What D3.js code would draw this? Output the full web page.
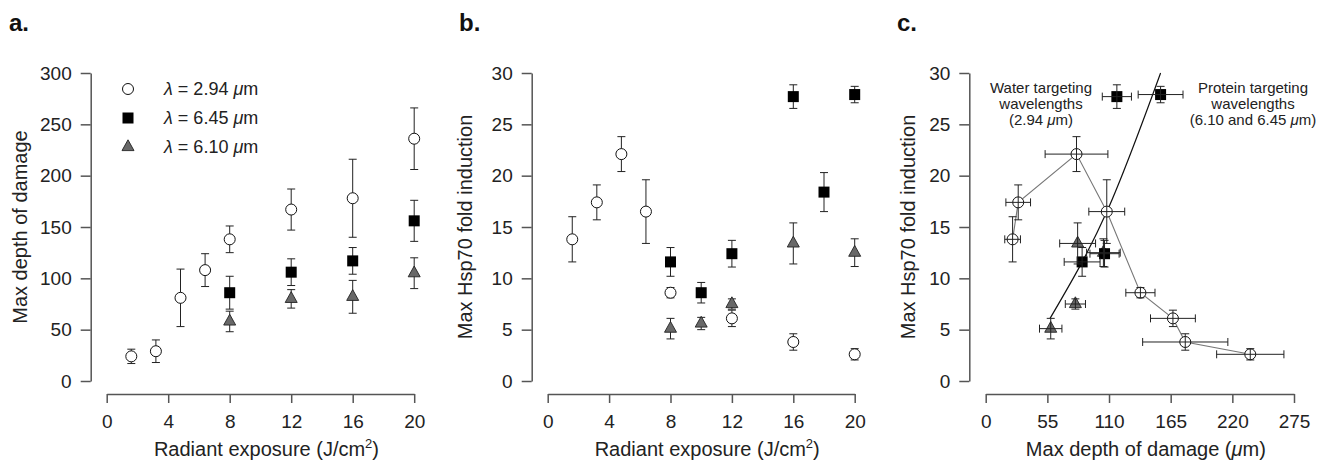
<!DOCTYPE html>
<html>
<head>
<meta charset="utf-8">
<script src="https://cdn.jsdelivr.net/npm/d3@7"></script>
<style>
  body { margin: 0; background: #fff; }
  svg { font-family: "Liberation Sans", Arial, sans-serif; }
  .axis path, .axis line { stroke: #555; stroke-width: 1.5; }
  .axis text { font-family: "Liberation Sans", Arial, sans-serif; font-size: 19px; fill: #222; }
  .err { stroke: #222; stroke-width: 1; fill: none; }
</style>
</head>
<body>
<script>
// ---- data ----
// lambda = 2.94 um (water), circles
var expWater = [1.6, 3.2, 4.8, 6.4, 8, 12, 16, 20];
var depthWater = [24, 29, 81, 108, 138, 167, 178, 236];
var depthWaterErr = [7, 11, 28, 16, 13, 20, 38, 30];
var hspWater = [13.8, 17.4, 22.1, 16.5, 8.6, 6.1, 3.8, 2.6];
var hspWaterErr = [2.2, 1.7, 1.7, 3.1, 0.5, 0.8, 0.8, 0.55];

// lambda = 6.45 um, squares
var expDepth645 = [8, 12, 16, 20];
var depth645 = [86, 106, 117, 156];
var depth645Err = [16, 13, 13, 20];
var expHsp645 = [8, 10, 12, 16, 18, 20];
var hsp645 = [11.6, 8.6, 12.4, 27.7, 18.4, 27.9];
var hsp645Err = [1.4, 1.0, 1.3, 1.15, 1.9, 0.8];

// lambda = 6.10 um, triangles
var expDepth610 = [8, 12, 16, 20];
var depth610 = [58, 80, 82, 105];
var depth610Err = [10, 9, 16, 15];
var expHsp610 = [8, 10, 12, 16, 20];
var hsp610 = [5.1, 5.6, 7.5, 13.4, 12.5];
var hsp610Err = [1.0, 0.6, 0.5, 2.0, 1.35];

// trend line through protein-targeting points (panel c)
var fitDepth = [57.4, 108.5, 156];
var fitHsp = [6.1, 16.6, 30];

// axis ticks
var expTicks = [0, 4, 8, 12, 16, 20];
var depthTicks = [0, 50, 100, 150, 200, 250, 300];
var hspTicks = [0, 5, 10, 15, 20, 25, 30];
var depthXTicks = [0, 55, 110, 165, 220, 275];

var width = 1327, height = 465;
var yTop = 73, yBottom = 381, xAxisY = 394;

var svg = d3.select("body").append("svg")
    .attr("width", width)
    .attr("height", height);

// helpers
function zipPts(xs, ys, xe, ye) {
  return xs.map(function(d, i) {
    return { x: d, y: ys[i], xe: xe ? xe[i] : 0, ye: ye ? ye[i] : 0 };
  });
}
// pair depth and hsp values that share the same exposure
function pairByExposure(expA, a, aErr, expB, b, bErr) {
  var out = [];
  expA.forEach(function(e, i) {
    var j = expB.indexOf(e);
    if (j >= 0) out.push({ x: a[i], xe: aErr[i], y: b[j], ye: bErr[j] });
  });
  return out;
}

var triPath = "M0,-7.2L6,3.6L-6,3.6Z";

function drawMarkers(g, pts, x, y, kind, fill) {
  var sel = g.append("g").selectAll("g").data(pts).enter().append("g")
      .attr("transform", function(d) { return "translate(" + x(d.x) + "," + y(d.y) + ")"; });
  if (kind === "circle") {
    sel.append("circle").attr("r", 5.5).attr("fill", fill || "#fff")
       .attr("stroke", "#111").attr("stroke-width", 1);
  } else if (kind === "square") {
    sel.append("rect").attr("x", -5.5).attr("y", -5.5).attr("width", 11).attr("height", 11)
       .attr("fill", "#000");
  } else {
    sel.append("path").attr("d", triPath).attr("fill", "#686868")
       .attr("stroke", "#222").attr("stroke-width", 0.9);
  }
}

function drawErr(g, pts, x, y, horiz) {
  var cap = 4;
  var eg = g.append("g").attr("class", "err");
  pts.forEach(function(d) {
    var cx = x(d.x), cy = y(d.y);
    if (d.ye) {
      var y1 = y(d.y + d.ye), y2 = y(d.y - d.ye);
      eg.append("line").attr("x1", cx).attr("x2", cx).attr("y1", y1).attr("y2", y2);
      eg.append("line").attr("x1", cx - cap).attr("x2", cx + cap).attr("y1", y1).attr("y2", y1);
      eg.append("line").attr("x1", cx - cap).attr("x2", cx + cap).attr("y1", y2).attr("y2", y2);
    }
    if (horiz && d.xe) {
      var x1 = x(d.x - d.xe), x2 = x(d.x + d.xe);
      eg.append("line").attr("x1", x1).attr("x2", x2).attr("y1", cy).attr("y2", cy);
      eg.append("line").attr("x1", x1).attr("x2", x1).attr("y1", cy - cap).attr("y2", cy + cap);
      eg.append("line").attr("x1", x2).attr("x2", x2).attr("y1", cy - cap).attr("y2", cy + cap);
    }
  });
}

// builds axes, titles and panel letter; returns scales
function makePanel(o) {
  var g = svg.append("g");
  var x = d3.scaleLinear().domain(o.xDomain).range(o.xRange);
  var y = d3.scaleLinear().domain(o.yDomain).range([yBottom, yTop]);

  g.append("g").attr("class", "axis")
    .attr("transform", "translate(" + o.axisX + ",0)")
    .call(d3.axisLeft(y).tickValues(o.yTicks).tickSize(10).tickSizeOuter(0).tickPadding(9));

  g.append("g").attr("class", "axis")
    .attr("transform", "translate(0," + xAxisY + ")")
    .call(d3.axisBottom(x).tickValues(o.xTicks).tickSize(9).tickSizeOuter(0).tickPadding(12));

  g.append("text")
    .attr("transform", "translate(" + o.yTitleX + "," + (yTop + yBottom) / 2 + ") rotate(-90)")
    .attr("text-anchor", "middle")
    .attr("dominant-baseline", "central")
    .attr("font-size", 20).attr("fill", "#222")
    .text(o.yTitle);

  var xt = g.append("text")
    .attr("x", (o.xRange[0] + o.xRange[1]) / 2 + 6)
    .attr("y", 456)
    .attr("text-anchor", "middle")
    .attr("font-size", 20).attr("fill", "#222");
  o.xTitle(xt);

  g.append("text")
    .attr("x", o.labelX).attr("y", 31)
    .attr("font-size", 24).attr("font-weight", "bold").attr("fill", "#111")
    .text(o.label);

  return { g: g, x: x, y: y };
}

function exposureTitle(t) {
  t.append("tspan").text("Radiant exposure (J/cm");
  t.append("tspan").attr("font-size", 13).attr("dy", -8).text("2");
  t.append("tspan").attr("dy", 8).text(")");
}

// ---- panel a ----
var pa = makePanel({
  label: "a.", labelX: 9, axisX: 90.7,
  xDomain: [0, 20], xRange: [106.7, 414.2], xTicks: expTicks,
  yDomain: [0, 300], yTicks: depthTicks,
  yTitle: "Max depth of damage", yTitleX: 20,
  xTitle: exposureTitle
});
var aWater = zipPts(expWater, depthWater, null, depthWaterErr);
var a645 = zipPts(expDepth645, depth645, null, depth645Err);
var a610 = zipPts(expDepth610, depth610, null, depth610Err);
drawErr(pa.g, a610, pa.x, pa.y, false);
drawErr(pa.g, a645, pa.x, pa.y, false);
drawErr(pa.g, aWater, pa.x, pa.y, false);
drawMarkers(pa.g, a610, pa.x, pa.y, "triangle");
drawMarkers(pa.g, a645, pa.x, pa.y, "square");
drawMarkers(pa.g, aWater, pa.x, pa.y, "circle");

// legend
var legendItems = [
  { kind: "circle", wl: "2.94" },
  { kind: "square", wl: "6.45" },
  { kind: "triangle", wl: "6.10" }
];
legendItems.forEach(function(d, i) {
  var ly = 89 + i * 29;
  var lg = pa.g.append("g");
  drawMarkers(lg, [{ x: 0, y: 0 }], function() { return 128; }, function() { return ly; }, d.kind);
  var t = lg.append("text").attr("x", 164).attr("y", ly)
    .attr("dominant-baseline", "central").attr("font-size", 18).attr("fill", "#222");
  t.append("tspan").attr("font-style", "italic").text("λ");
  t.append("tspan").text(" = " + d.wl + " ");
  t.append("tspan").attr("font-style", "italic").text("μ");
  t.append("tspan").text("m");
});

// ---- panel b ----
var pb = makePanel({
  label: "b.", labelX: 459, axisX: 531.7,
  xDomain: [0, 20], xRange: [547.7, 854.7], xTicks: expTicks,
  yDomain: [0, 30], yTicks: hspTicks,
  yTitle: "Max Hsp70 fold induction", yTitleX: 465,
  xTitle: exposureTitle
});
var bWater = zipPts(expWater, hspWater, null, hspWaterErr);
var b645 = zipPts(expHsp645, hsp645, null, hsp645Err);
var b610 = zipPts(expHsp610, hsp610, null, hsp610Err);
drawErr(pb.g, b610, pb.x, pb.y, false);
drawErr(pb.g, b645, pb.x, pb.y, false);
drawErr(pb.g, bWater, pb.x, pb.y, false);
drawMarkers(pb.g, b610, pb.x, pb.y, "triangle");
drawMarkers(pb.g, b645, pb.x, pb.y, "square");
drawMarkers(pb.g, bWater, pb.x, pb.y, "circle");

// ---- panel c ----
var pc = makePanel({
  label: "c.", labelX: 897, axisX: 969.3,
  xDomain: [0, 275], xRange: [985.7, 1294], xTicks: depthXTicks,
  yDomain: [0, 30], yTicks: hspTicks,
  yTitle: "Max Hsp70 fold induction", yTitleX: 908,
  xTitle: function(t) {
    t.append("tspan").text("Max depth of damage (");
    t.append("tspan").attr("font-style", "italic").text("μ");
    t.append("tspan").text("m)");
  }
});
var cWater = pairByExposure(expWater, depthWater, depthWaterErr, expWater, hspWater, hspWaterErr);
var c645 = pairByExposure(expDepth645, depth645, depth645Err, expHsp645, hsp645, hsp645Err);
var c610 = pairByExposure(expDepth610, depth610, depth610Err, expHsp610, hsp610, hsp610Err);

// connecting line for water-targeting points
pc.g.append("path")
  .datum(cWater)
  .attr("fill", "none").attr("stroke", "#777").attr("stroke-width", 1.1)
  .attr("d", d3.line().x(function(d) { return pc.x(d.x); }).y(function(d) { return pc.y(d.y); }));

// trend curve for protein-targeting points
pc.g.append("path")
  .datum(fitDepth.map(function(d, i) { return [d, fitHsp[i]]; }))
  .attr("fill", "none").attr("stroke", "#111").attr("stroke-width", 1.2)
  .attr("d", d3.line().curve(d3.curveMonotoneX)
    .x(function(d) { return pc.x(d[0]); }).y(function(d) { return pc.y(d[1]); }));

drawMarkers(pc.g, c610, pc.x, pc.y, "triangle");
drawMarkers(pc.g, c645, pc.x, pc.y, "square");
drawMarkers(pc.g, cWater, pc.x, pc.y, "circle");
drawErr(pc.g, c610, pc.x, pc.y, true);
drawErr(pc.g, c645, pc.x, pc.y, true);
drawErr(pc.g, cWater, pc.x, pc.y, true);

// annotations
var notes = [
  { cx: 1041, lines: [["Water targeting"], ["wavelengths"], ["(2.94 ", "μ", "m)"]] },
  { cx: 1253, lines: [["Protein targeting"], ["wavelengths"], ["(6.10 and 6.45 ", "μ", "m)"]] }
];
notes.forEach(function(n) {
  n.lines.forEach(function(parts, i) {
    var t = pc.g.append("text").attr("x", n.cx).attr("y", 93 + i * 16)
      .attr("text-anchor", "middle").attr("font-size", 15).attr("fill", "#222");
    parts.forEach(function(p) {
      var s = t.append("tspan").text(p);
      if (p === "μ") s.attr("font-style", "italic");
    });
  });
});
</script>
</body>
</html>
